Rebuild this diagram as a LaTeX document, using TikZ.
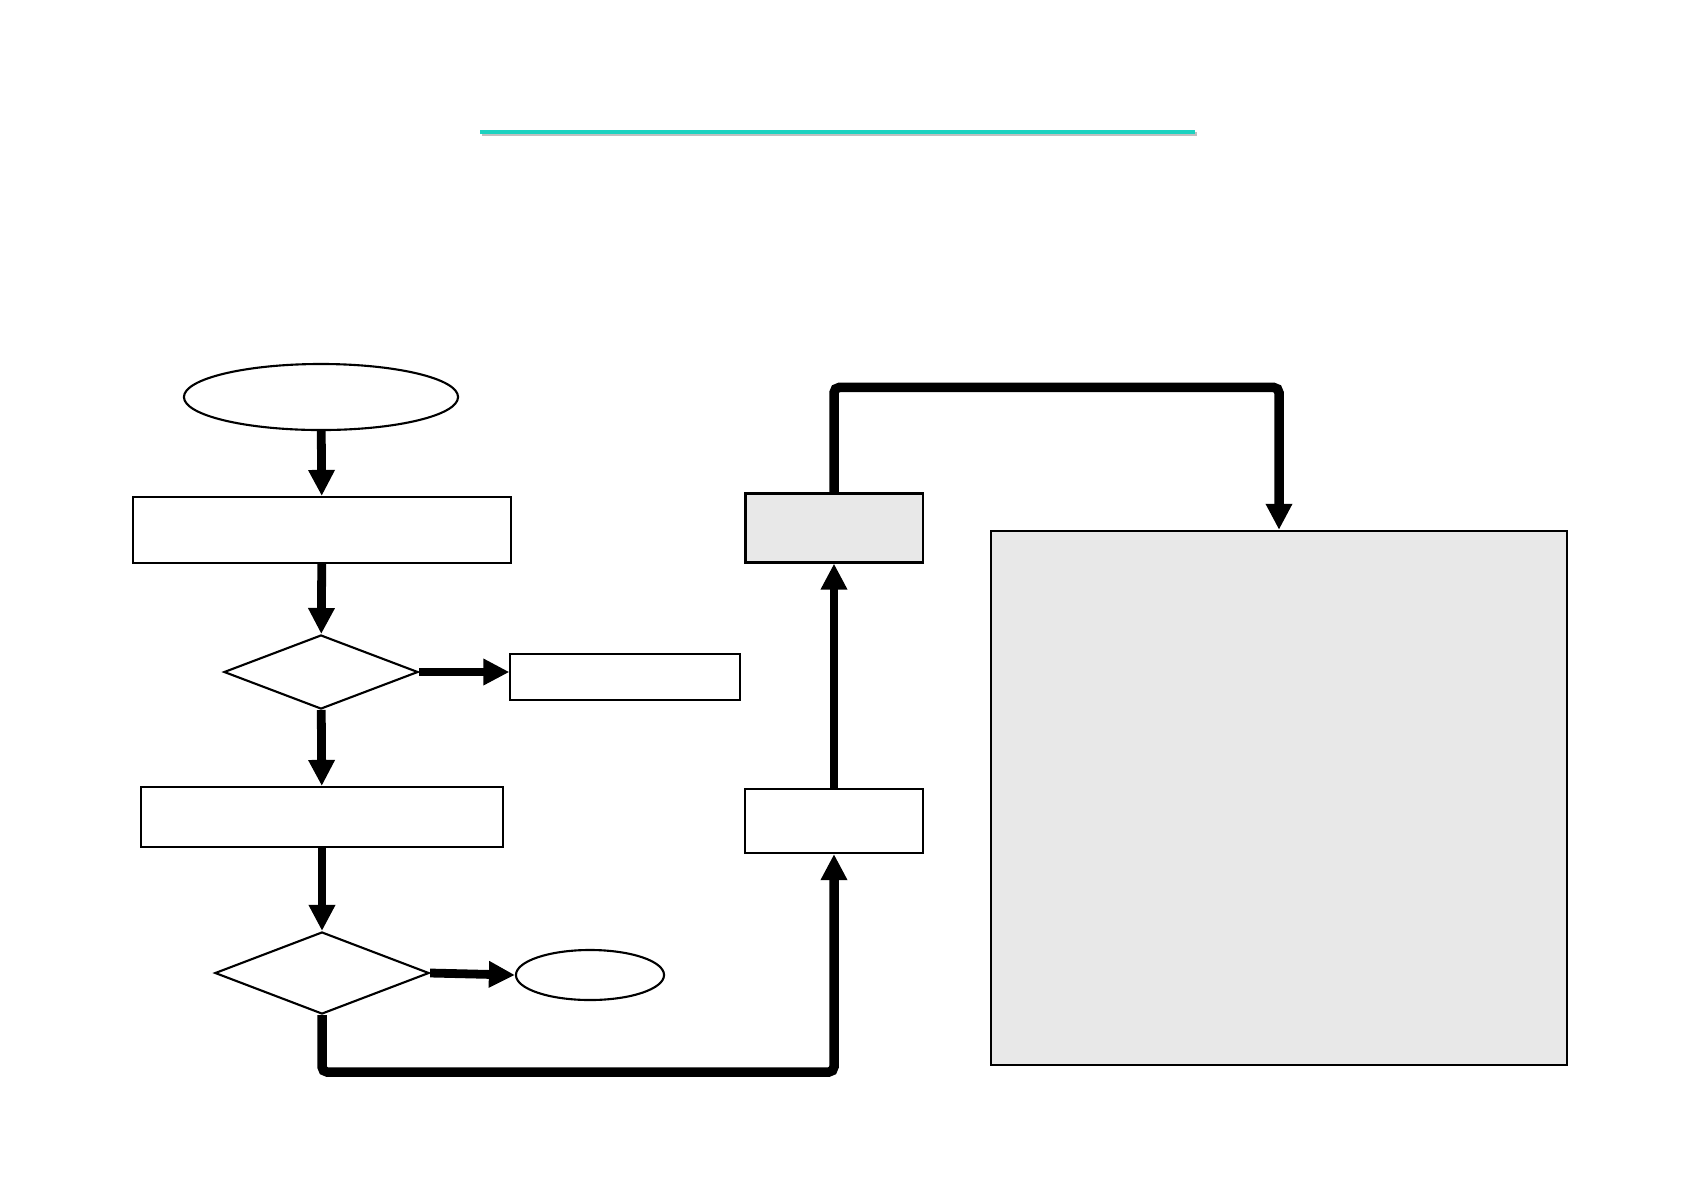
\documentclass[tikz,border=0pt]{standalone}
\usepackage{xcolor,tikz}
\usetikzlibrary{arrows.meta,positioning,shapes.geometric,calc}
\definecolor{Tl}{HTML}{1CD2C0}
\definecolor{Sh}{HTML}{C0C0C0}
\definecolor{Gf}{HTML}{E8E8E8}
\tikzset{
  box/.style={rectangle, draw=black, line width=0.6pt, fill=white, inner sep=0pt},
  gbox/.style={box, fill=Gf},
  term/.style={ellipse, draw=black, line width=0.6pt, inner sep=0pt},
  dec/.style={diamond, draw=black, line width=0.6pt, inner sep=0pt},
  link/.style={-{Triangle[length=0.26cm, width=0.25cm]}, line width=2.5pt},
  loop/.style={link, line width=2.7pt, rounded corners=1.5pt},
}
\begin{document}
\begin{tikzpicture}[x=0.01cm, y=-0.01cm]
  \useasboundingbox (0,0) rectangle (1684,1190);
  % title rule
  \draw[Sh, line width=1.2pt] (482,134) -- (1197,134);
  \draw[Tl, line width=1.2pt] (480,132) -- (1195,132);
  % left column
  \node[term, minimum width=2.74cm, minimum height=0.66cm] (start) at (321,397) {};
  \node[box, minimum width=3.78cm, minimum height=0.66cm] (read) at (322,530) {};
  \node[dec, minimum width=1.94cm, minimum height=0.74cm] (chk1) at (321,672) {};
  \node[box, minimum width=2.29cm, minimum height=0.46cm] (err) at (625,677) {};
  \node[box, minimum width=3.61cm, minimum height=0.60cm] (proc) at (322,817) {};
  \node[dec, minimum width=2.14cm, minimum height=0.82cm] (chk2) at (322,973) {};
  \node[term, minimum width=1.48cm, minimum height=0.50cm] (stop) at (590,975) {};
  % right part
  \node[box, minimum width=1.78cm, minimum height=0.64cm] (stepB) at (834,821) {};
  \node[gbox, minimum width=1.77cm, minimum height=0.69cm] (stepA) at (834,528) {};
  \node[gbox, minimum width=5.76cm, minimum height=5.34cm] (detail) at (1279,798) {};
  % connectors
  \draw[link] (start) -- (read);
  \draw[link] (read) -- (chk1);
  \draw[link] (chk1.east) -- (chk1.east -| err.west);
  \draw[link] (chk1) -- (proc);
  \draw[link] (proc) -- (chk2);
  \draw[link] (chk2.east) -- (stop.west);
  \draw[loop] (chk2.south) -- ++(0,57) -| (stepB.south);
  \draw[link] (stepB) -- (stepA);
  \draw[loop] (stepA.north) -- ++(0,-105) -| (detail.north);
\end{tikzpicture}
\end{document}
